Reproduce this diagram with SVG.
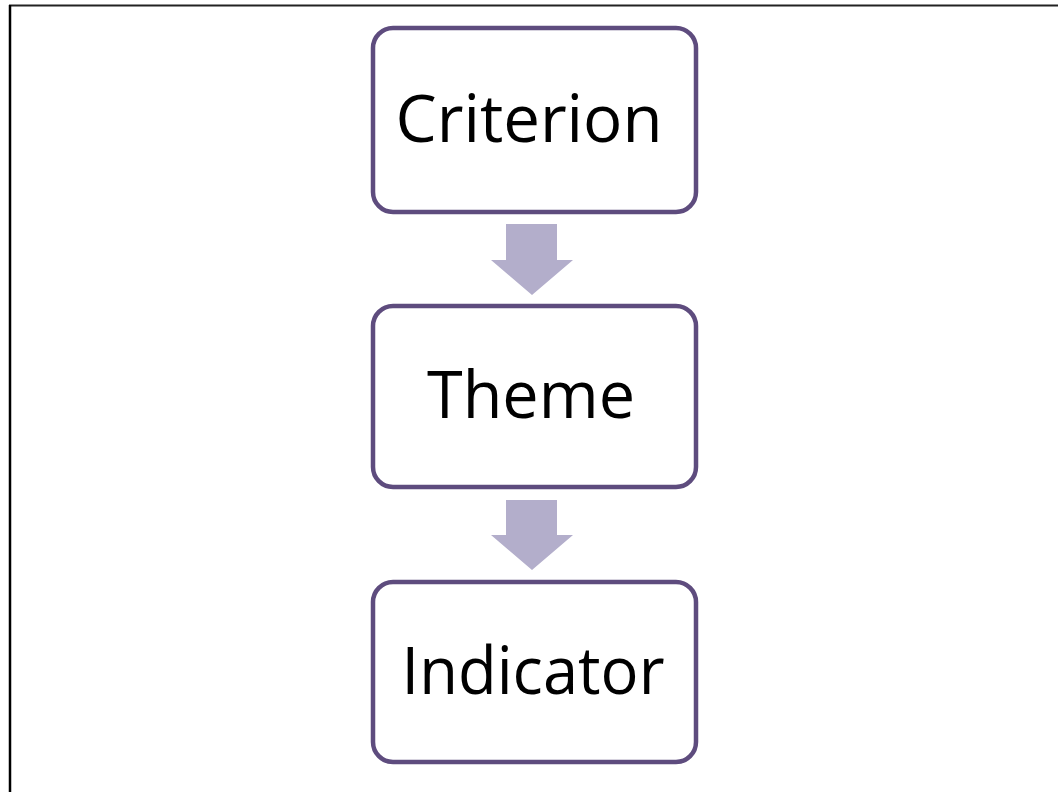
<svg xmlns="http://www.w3.org/2000/svg" width="1058" height="792" viewBox="0 0 1058 792">
<style>
.box{fill:#ffffff;stroke:#5E4C7E;stroke-width:4.5}
.lbl{font-family:"Open Sans","Noto Sans",sans-serif;font-size:65px;fill:#000;text-anchor:middle}
.arr{fill:#B3AECB}
</style>
<rect width="1058" height="792" fill="#fff"/>
<g id="frame">
<line x1="9" y1="5.5" x2="1058" y2="5.5" stroke="#222" stroke-width="2"/>
<line x1="10" y1="5" x2="10" y2="792" stroke="#000" stroke-width="2.5"/>
</g>
<g id="connectors">
<polygon class="arr" points="506,224 557,224 557,260 573,260 532,295 491,260 506,260"/>
<polygon class="arr" points="506,500 557,500 557,535 573,535 532,570 491,535 506,535"/>
</g>
<g id="criterion">
<rect class="box" x="373" y="28" width="323" height="184" rx="20"/>
<text class="lbl" x="529" y="142" textLength="267" lengthAdjust="spacingAndGlyphs">Criterion</text>
</g>
<g id="theme">
<rect class="box" x="373" y="306" width="323" height="181" rx="20"/>
<text class="lbl" x="531" y="418" textLength="208" lengthAdjust="spacingAndGlyphs">Theme</text>
</g>
<g id="indicator">
<rect class="box" x="373" y="582" width="323" height="180" rx="20"/>
<text class="lbl" x="533" y="694" textLength="263" lengthAdjust="spacingAndGlyphs">Indicator</text>
</g>
</svg>
